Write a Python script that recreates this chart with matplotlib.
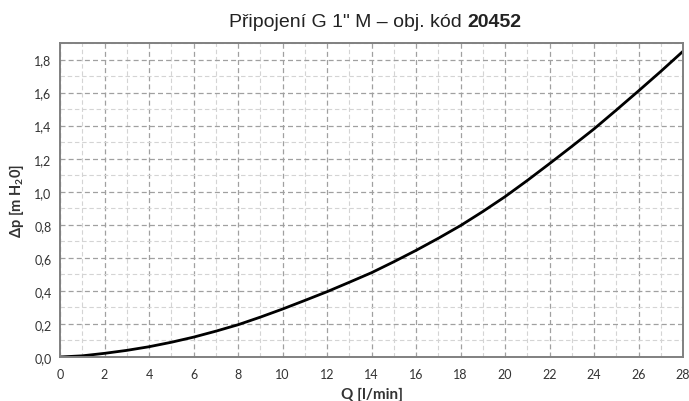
import matplotlib
matplotlib.use("Agg")
import matplotlib.pyplot as plt
from matplotlib.ticker import MultipleLocator, FuncFormatter

# values
flow = [0, 1, 2, 3, 4, 5, 6, 7, 8, 9, 10, 11, 12, 13, 14,
        15, 16, 17, 18, 19, 20, 21, 22, 23, 24, 25, 26, 27, 28]
dp = [0.0, 0.007, 0.022, 0.04, 0.062, 0.089, 0.12, 0.156, 0.195, 0.241, 0.29, 0.342, 0.395, 0.452, 0.51,
      0.576, 0.645, 0.718, 0.795, 0.88, 0.97, 1.068, 1.17, 1.274, 1.38, 1.494, 1.61, 1.728, 1.85]

title_normal = "Připojení G 1\" M – obj. kód "
title_bold = "20452"

plt.rcParams['font.family'] = ['Lato', 'DejaVu Sans']
plt.rcParams['mathtext.fontset'] = 'custom'
plt.rcParams['mathtext.rm'] = 'Lato:bold'
plt.rcParams['mathtext.bf'] = 'Lato:bold'

fig = plt.figure(figsize=(6.89, 4.02), dpi=100)
ax = fig.add_axes([0.0871, 0.1095, 0.9042, 0.781])

ax.plot(flow, dp, color='black', lw=2.0, solid_capstyle='round')

ax.set_xlim(0, 28)
ax.set_ylim(0, 1.9)
ax.xaxis.set_major_locator(MultipleLocator(2))
ax.xaxis.set_minor_locator(MultipleLocator(1))
ax.yaxis.set_major_locator(MultipleLocator(0.2))
ax.yaxis.set_minor_locator(MultipleLocator(0.1))
ax.yaxis.set_major_formatter(FuncFormatter(lambda v, p: f"{v:.1f}".replace('.', ',')))
ax.xaxis.set_major_formatter(FuncFormatter(lambda v, p: f"{v:.0f}"))

ax.grid(which='major', color='#a0a0a0', ls=(0, (4, 2.5)), lw=0.9)
ax.grid(which='minor', color='#d4d4d4', ls=(0, (4, 2.5)), lw=0.8)
ax.set_axisbelow(True)
ax.tick_params(which='both', length=0, labelsize=9, colors='#333333', pad=8)
ax.tick_params(axis='y', pad=6)
for s in ax.spines.values():
    s.set_color('#808080')
    s.set_linewidth(1.4)

ax.set_xlabel("Q [l/min]", fontsize=11, fontweight='bold', color='#333333', labelpad=5)
ax.set_ylabel(r"Δp [m H$_\mathrm{2}$0]", fontsize=10.5, fontweight='bold', color='#333333', labelpad=6)

# title with bold code number
fig.canvas.draw()
r = fig.canvas.get_renderer()
t1 = fig.text(0, 0.933, title_normal, fontsize=14, family=['Liberation Sans'], color='#222222', va='baseline')
t2 = fig.text(0, 0.933, title_bold, fontsize=14, family=['Liberation Sans'], fontweight='bold', color='#222222', va='baseline')
w1 = t1.get_window_extent(r).width
w2 = t2.get_window_extent(r).width
W = fig.bbox.width
start = 375 - (w1 + w2) / 2
t1.set_x(start / W)
t2.set_x((start + w1) / W)

fig.savefig("out.png", dpi=100)
